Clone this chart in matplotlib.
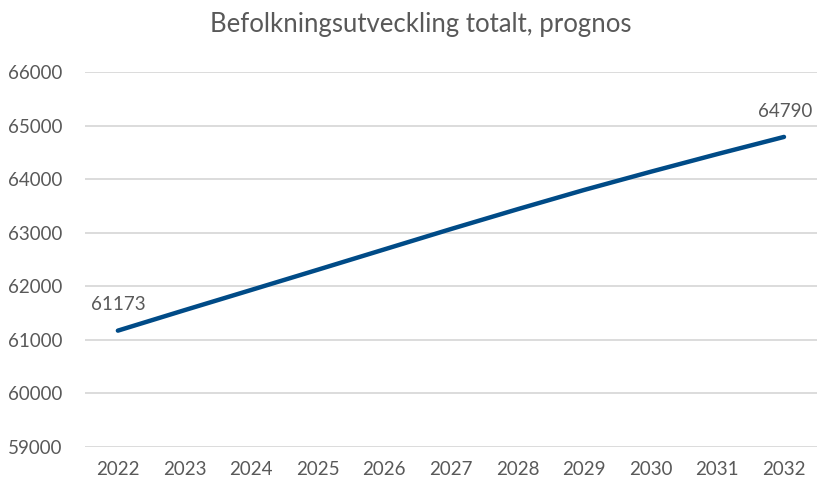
import matplotlib
matplotlib.use("Agg")
import matplotlib.pyplot as plt

# Befolkningsprognos, totalt
years = ["2022", "2023", "2024", "2025", "2026", "2027",
         "2028", "2029", "2030", "2031", "2032"]
population = [61173, 61555, 61932, 62310, 62690, 63070,
              63440, 63800, 64140, 64470, 64790]
y_ticks = [59000, 60000, 61000, 62000, 63000, 64000, 65000, 66000]

plt.rcParams['font.family'] = ['Lato', 'DejaVu Sans']
text_color = '#595959'

fig = plt.figure(figsize=(8.21, 4.84), dpi=100)
ax = fig.add_axes([0.103, 0.0764, 0.8925, 0.7746])

x = list(range(len(years)))
ax.plot(x, population, color='#004B87', linewidth=3.2, solid_capstyle='round', zorder=3)

ax.set_xlim(-0.5, len(years) - 0.5)
ax.set_ylim(59000, 66000)
ax.set_xticks(x)
ax.set_xticklabels(years)
ax.set_yticks(y_ticks)
ax.set_yticklabels([str(v) for v in y_ticks])
ax.tick_params(axis='both', length=0, labelsize=13.5, colors=text_color)
ax.tick_params(axis='x', pad=10)
ax.tick_params(axis='y', pad=16)

ax.grid(axis='y', color='#D9D9D9', linewidth=1.3)
ax.set_axisbelow(True)
for s in ax.spines.values():
    s.set_visible(False)

# Etiketter vid första och sista punkten
ax.annotate(str(population[0]), (x[0], population[0]), xytext=(0, 13),
            textcoords='offset points', ha='center', va='bottom',
            fontsize=13.5, color=text_color)
ax.annotate(str(population[-1]), (x[-1], population[-1]), xytext=(1, 12),
            textcoords='offset points', ha='center', va='bottom',
            fontsize=13.5, color=text_color)

fig.suptitle('Befolkningsutveckling totalt, prognos', x=0.512, y=0.975,
             fontsize=18.5, color=text_color)

fig.savefig('out.png', dpi=100)
